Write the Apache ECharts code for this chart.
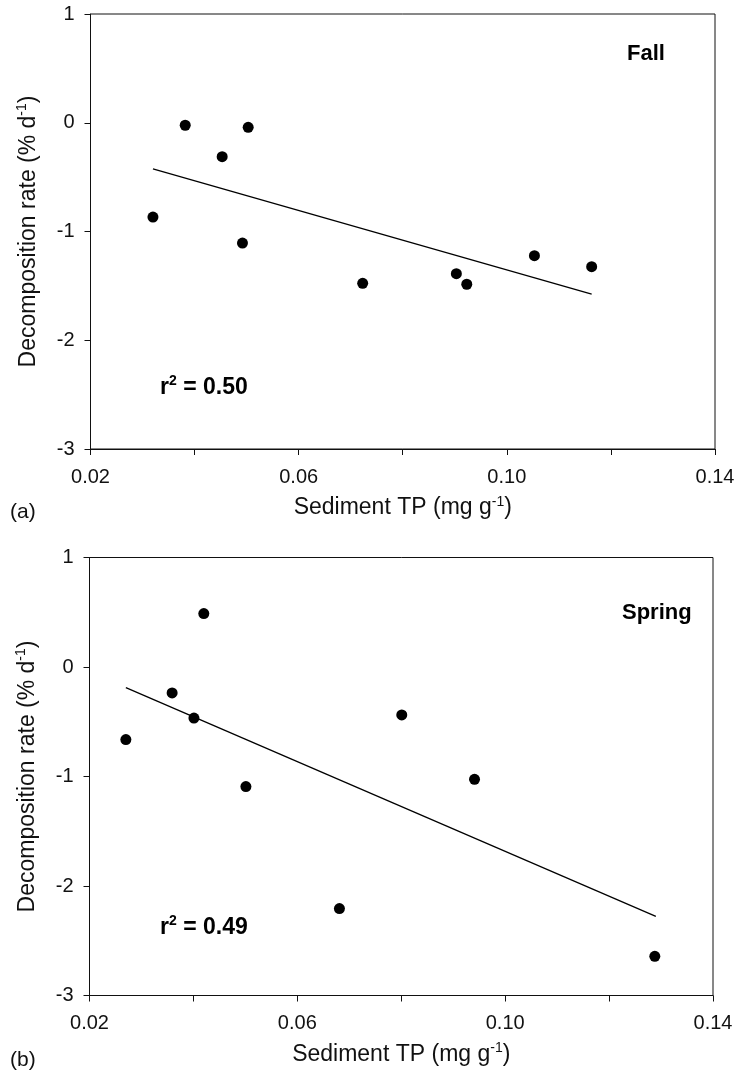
<!DOCTYPE html>
<html>
<head>
<meta charset="utf-8">
<script src="https://cdn.jsdelivr.net/npm/echarts@6/dist/echarts.min.js"></script>
<style>
html,body{margin:0;padding:0;background:#fff;}
#c{width:739px;height:1078px;}
</style>
</head>
<body>
<div id="c"></div>
<script>
// ---- data ----
const fallTP   = [0.032, 0.0382, 0.0453, 0.0503, 0.0492, 0.0723, 0.0903, 0.0923, 0.1053, 0.1163];
const fallRate = [-0.867, -0.023, -0.312, -0.042, -1.106, -1.476, -1.388, -1.485, -1.222, -1.324];
const fallFitTP   = [0.032, 0.1163];
const fallFitRate = [-0.425, -1.575];

const springTP   = [0.027, 0.0359, 0.0401, 0.0420, 0.0501, 0.0681, 0.0801, 0.0941, 0.1288];
const springRate = [-0.663, -0.237, -0.466, 0.488, -1.092, -2.206, -0.438, -1.026, -2.642];
const springFitTP   = [0.027, 0.129];
const springFitRate = [-0.188, -2.277];

const xTickLabels = ['0.02', '0.06', '0.10', '0.14'];
const yTickLabels = ['1', '0', '-1', '-2', '-3'];
const panelLabels = ['(a)', '(b)'];
const seasonLabels = ['Fall', 'Spring'];
const r2Labels = ['0.50', '0.49'];

// ---- helpers ----
const FONT = '"Liberation Sans", Arial, sans-serif';
const INK = '#111';
const pairs = (xs, ys) => xs.map((x, i) => [x, ys[i]]);

function xLabelFmt(v) {
  const s = v.toFixed(2);
  return xTickLabels.indexOf(s) >= 0 ? s : '';
}
function yLabelFmt(v) {
  const s = String(Math.round(v));
  return yTickLabels.indexOf(s) >= 0 ? s : '';
}

const nameRich = {
  n: { fontFamily: FONT, fontSize: 23, color: INK, lineHeight: 26 },
  sup: { fontFamily: FONT, fontSize: 14, color: INK, lineHeight: 15, verticalAlign: 'top' }
};

function xAxis(gi) {
  return {
    type: 'value', gridIndex: gi, min: 0.02, max: 0.14, interval: 0.02,
    axisLine: { show: true, onZero: false, lineStyle: { color: INK, width: 1 } },
    axisTick: { show: true, length: 6, lineStyle: { color: INK } },
    splitLine: { show: false },
    axisLabel: { formatter: xLabelFmt, fontFamily: FONT, fontSize: 20, color: INK, margin: 18 },
    name: '{n|Sediment TP (mg g}{sup|-1}{n|)}',
    nameLocation: 'middle', nameGap: 46,
    nameTextStyle: { rich: nameRich }
  };
}
function yAxis(gi) {
  return {
    type: 'value', gridIndex: gi, min: -3, max: 1, interval: 1,
    axisLine: { show: true, onZero: false, lineStyle: { color: INK, width: 1 } },
    axisTick: { show: true, length: 6, lineStyle: { color: INK } },
    splitLine: { show: false },
    axisLabel: { formatter: yLabelFmt, fontFamily: FONT, fontSize: 20, color: INK, margin: 16 },
    name: '{n|Decomposition rate (% d}{sup|-1}{n|)}',
    nameLocation: 'middle', nameGap: 49,
    nameTextStyle: { rich: nameRich }
  };
}

function scatter(gi, xs, ys) {
  return {
    type: 'scatter', xAxisIndex: gi, yAxisIndex: gi,
    data: pairs(xs, ys), symbol: 'circle', symbolSize: 11,
    itemStyle: { color: '#000', opacity: 1 }, z: 3
  };
}
function fit(gi, xs, ys) {
  return {
    type: 'line', xAxisIndex: gi, yAxisIndex: gi,
    data: pairs(xs, ys), showSymbol: false, symbol: 'none',
    lineStyle: { color: '#000', width: 1.3 }, z: 2
  };
}

const seasonRich = {
  b: { fontFamily: FONT, fontSize: 22, fontWeight: 'bold', color: INK, lineHeight: 26 }
};
const r2Rich = {
  b: { fontFamily: FONT, fontSize: 23, fontWeight: 'bold', color: INK, lineHeight: 27 },
  bs: { fontFamily: FONT, fontSize: 14, fontWeight: 'bold', color: INK, lineHeight: 15, verticalAlign: 'top' }
};

function txt(x, y, text, rich) {
  return { type: 'text', left: x, top: y, style: { text: text, rich: rich } };
}
function plain(x, y, text) {
  return { type: 'text', left: x, top: y, style: { text: text, fontFamily: FONT, fontSize: 21, fill: INK } };
}

const chart = echarts.init(document.getElementById('c'), null, { renderer: 'canvas' });
chart.setOption({
  animation: false,
  backgroundColor: '#fff',
  grid: [
    { left: 90.5, top: 14, width: 624.5, height: 435, show: true, borderColor: INK, borderWidth: 1, backgroundColor: 'transparent', containLabel: false },
    { left: 89.5, top: 557.5, width: 623.5, height: 438, show: true, borderColor: INK, borderWidth: 1, backgroundColor: 'transparent', containLabel: false }
  ],
  xAxis: [xAxis(0), xAxis(1)],
  yAxis: [yAxis(0), yAxis(1)],
  series: [
    fit(0, fallFitTP, fallFitRate),
    scatter(0, fallTP, fallRate),
    fit(1, springFitTP, springFitRate),
    scatter(1, springTP, springRate)
  ],
  graphic: [
    txt(627, 43, '{b|' + seasonLabels[0] + '}', seasonRich),
    txt(622, 602, '{b|' + seasonLabels[1] + '}', seasonRich),
    txt(160, 374, '{b|r}{bs|2}{b| = ' + r2Labels[0] + '}', r2Rich),
    txt(160, 914, '{b|r}{bs|2}{b| = ' + r2Labels[1] + '}', r2Rich),
    plain(10, 502, panelLabels[0]),
    plain(10, 1050, panelLabels[1])
  ]
});
</script>
</body>
</html>
